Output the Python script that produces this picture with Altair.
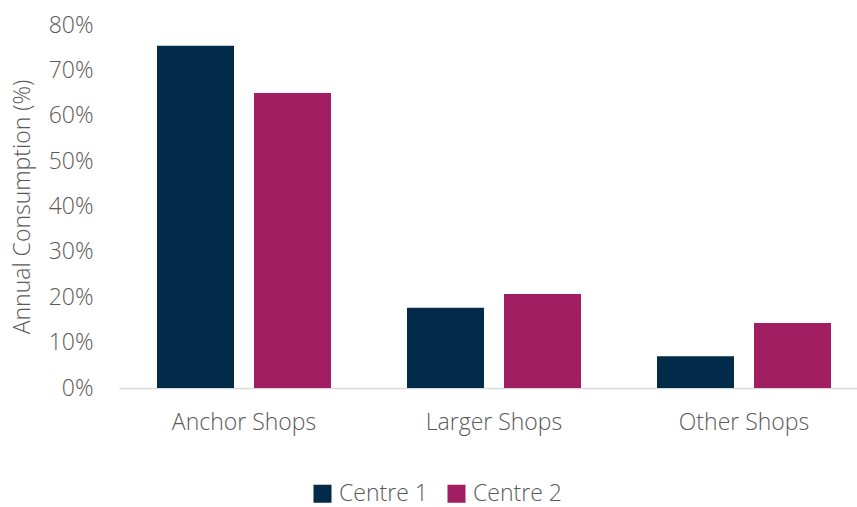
import altair as alt
import pandas as pd

categories = ["Anchor Shops", "Larger Shops", "Other Shops"]
series = ["Centre 1", "Centre 2"]
centre1 = [0.754, 0.177, 0.070]
centre2 = [0.650, 0.207, 0.143]
colors = ["#022B4A", "#A11E62"]

rows = []
for i, c in enumerate(categories):
    rows.append({"cat": c, "series": series[0], "value": centre1[i]})
    rows.append({"cat": c, "series": series[1], "value": centre2[i]})
df = pd.DataFrame(rows)

FONT = "Open Sans"
GREY = "#595959"
FS = 23

chart = alt.Chart(df).mark_bar().encode(
    x=alt.X("cat:N", sort=categories, title=None,
            scale=alt.Scale(range=[0, 750], paddingInner=0.304, paddingOuter=0.152),
            axis=alt.Axis(labelAngle=0, labelFontSize=FS, labelColor=GREY, labelFont=FONT,
                          labelFontWeight=300, labelPadding=23, ticks=False,
                          domainColor="#D9D9D9", domainWidth=1.5)),
    xOffset=alt.XOffset("series:N", sort=series,
                        scale=alt.Scale(paddingInner=0.206, paddingOuter=0)),
    y=alt.Y("value:Q", title="Annual Consumption (%)",
            scale=alt.Scale(domain=[0, 0.8]),
            axis=alt.Axis(format=".0%", values=[0, 0.1, 0.2, 0.3, 0.4, 0.5, 0.6, 0.7, 0.8],
                          grid=False, domain=False, ticks=False,
                          labelFontSize=FS, labelColor=GREY, labelFont=FONT, labelFontWeight=300,
                          labelPadding=26, titleFontSize=FS, titleColor=GREY, titleFont=FONT,
                          titleFontWeight=300, titlePadding=14)),
    color=alt.Color("series:N", sort=series,
                    scale=alt.Scale(domain=series, range=colors),
                    legend=alt.Legend(title=None, orient="none", direction="horizontal",
                                      legendX=192, legendY=457, symbolType="square",
                                      symbolSize=324, symbolStrokeWidth=0,
                                      labelFontSize=FS, labelColor=GREY, labelFont=FONT,
                                      labelFontWeight=300, labelOffset=5, columnPadding=17,
                                      labelLimit=200)),
).properties(
    width=738, height=363,
    padding={"left": 119, "top": 25, "right": 0, "bottom": 119},
    autosize=alt.AutoSizeParams(type="none"),
).configure_view(stroke=None)

chart.save("out.html", embed_options={"renderer": "svg", "actions": False})
